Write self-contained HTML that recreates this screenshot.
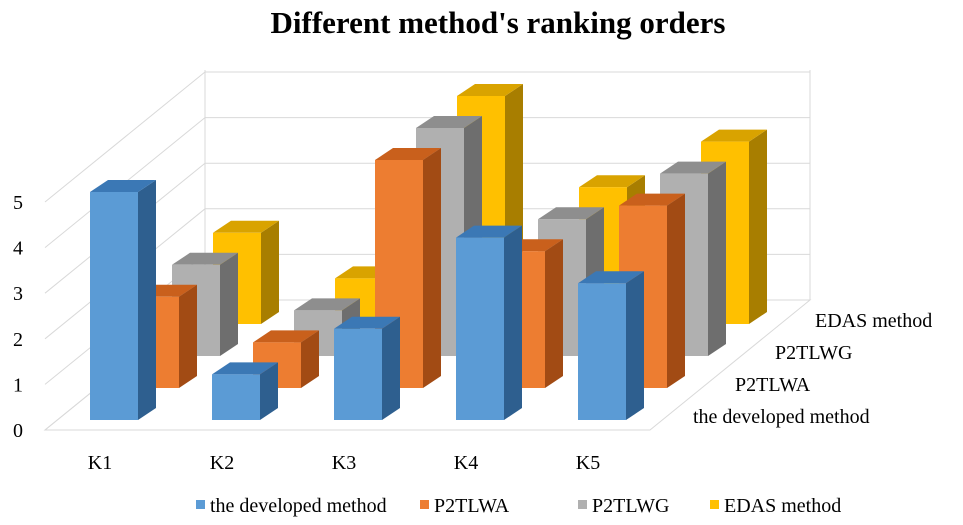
<!DOCTYPE html>
<html><head><meta charset="utf-8"><style>
body{margin:0;background:#fff;width:963px;height:520px;overflow:hidden}
text{font-family:"Liberation Serif",serif}
</style></head><body>
<svg id="chart" width="963" height="520" xmlns="http://www.w3.org/2000/svg">
<text x="498" y="33" text-anchor="middle" font-size="31" font-weight="bold">Different method's ranking orders</text>
<g id="walls"></g>
<g id="bars"></g>
<g id="labels"></g>
<g id="legend"></g>
</svg>
<script>
const categories=["K1","K2","K3","K4","K5"];
const seriesNames=["the developed method","P2TLWA","P2TLWG","EDAS method"];
const developed=[5,1,2,4,3];
const p2tlwa=[2,1,5,3,4];
const p2tlwg=[2,1,5,3,4];
const edas=[2,1,5,3,4];
const yTicks=[0,1,2,3,4,5];
const series=[developed,p2tlwa,p2tlwg,edas];
const colors=[["#5B9BD5","#3B78B5","#2E5F8F"],["#ED7D31","#C9601C","#A24B14"],["#B0B0B0","#8E8E8E","#6E6E6E"],["#FFC000","#D9A300","#A87E00"]];
const NS="http://www.w3.org/2000/svg";
const U=45.6, RX=41, RY=-32, BW=48, DX=18, DY=-12;
function xPos(i,r){return 90+122*i+RX*r;}
function yBase(r){return 420+RY*r;}
function yVal(v,r){return yBase(r)-U*v;}
function mk(tag,attrs,parent){const e=document.createElementNS(NS,tag);for(const k in attrs)e.setAttribute(k,attrs[k]);parent.appendChild(e);return e;}
const walls=document.getElementById('walls');
let f=mk('polygon',{points:"45,430 650,430 810,300 205,300",fill:"none",stroke:"#d9d9d9"},walls);


yTicks.forEach(t=>{
  const y=430-U*t;
  let l=mk('polyline',{points:`45,${y} 205,${y-130} 810,${y-130}`,fill:"none",stroke:"#d9d9d9"},walls);
  
  
  let tx=mk('text',{x:13,y:y+7,"font-size":"20"},walls);tx.textContent=t;
  
  
});
mk('line',{x1:205,y1:300,x2:205,y2:70,stroke:"#d9d9d9"},walls);
mk('line',{x1:810,y1:300,x2:810,y2:70,stroke:"#d9d9d9"},walls);
const bars=document.getElementById('bars');
for(let r=3;r>=0;r--){
  series[r].forEach((v,i)=>{
    const x=xPos(i,r),yb=yBase(r),yt=yVal(v,r),c=colors[r];
    const g=mk('g',{},bars);
    
    
    mk('polygon',{points:`${x+BW},${yb} ${x+BW+DX},${yb+DY} ${x+BW+DX},${yt+DY} ${x+BW},${yt}`,fill:c[2]},g);
    mk('polygon',{points:`${x},${yt} ${x+DX},${yt+DY} ${x+BW+DX},${yt+DY} ${x+BW},${yt}`,fill:c[1]},g);
    mk('rect',{x:x,y:yt,width:BW,height:yb-yt,fill:c[0]},g);
  });
}
const labels=document.getElementById('labels');
categories.forEach((k,i)=>{
  let t=mk('text',{x:xPos(i,0)+10,y:469,"font-size":"20","text-anchor":"middle"},labels);t.textContent=k;
  
  
});
const rowPos=[[693,423],[735,391],[775,359],[815,327]];
seriesNames.forEach((n,r)=>{
  let t=mk('text',{x:rowPos[r][0],y:rowPos[r][1],"font-size":"20"},labels);t.textContent=n;
  
  
});
const legend=document.getElementById('legend');
const lx=[196,420,578,710];
seriesNames.forEach((n,r)=>{
  const g=mk('g',{},legend);
  
  
  mk('rect',{x:lx[r],y:500,width:9,height:9,fill:colors[r][0]},g);
  let t=mk('text',{x:lx[r]+14,y:512,"font-size":"20"},g);t.textContent=n;
});
</script>
</body></html>
